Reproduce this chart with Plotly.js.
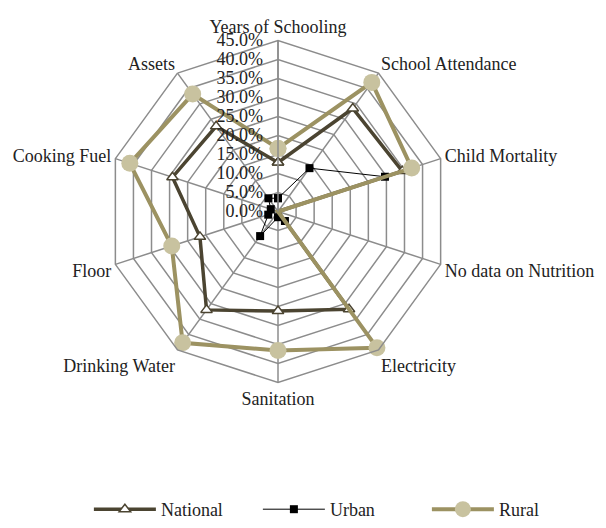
<!DOCTYPE html>
<html><head><meta charset="utf-8">
<script src="https://cdn.plot.ly/plotly-3.0.1.min.js"></script>
<style>html,body{margin:0;padding:0;background:#fff}</style>
</head><body>
<div id="chart" style="width:606px;height:528px"></div>
<script>
const categories = ["Years of Schooling","School Attendance","Child Mortality","No data on Nutrition","Electricity","Sanitation","Drinking Water","Floor","Cooking Fuel","Assets"];
const national = [0.129, 0.335, 0.344, 0.0, 0.318, 0.262, 0.320, 0.216, 0.292, 0.277];
const urban    = [0.035, 0.141, 0.296, 0.0, 0.031, 0.015, 0.080, 0.027, 0.020, 0.043];
const rural    = [0.166, 0.420, 0.370, 0.0, 0.443, 0.366, 0.427, 0.294, 0.410, 0.382];

const close = a => a.concat([a[0]]);
const cats = close(categories);
const FONT = "Liberation Serif, Times New Roman, serif";

const traces = [
  {type:'scatterpolar', name:'National', r: close(national), theta: cats, mode:'lines+markers',
   line:{color:'#4b4431', width:3.5},
   marker:{symbol:'triangle-up', size:10, color:'#ffffff', line:{color:'#4b4431', width:1.5}}},
  {type:'scatterpolar', name:'Urban', r: close(urban), theta: cats, mode:'lines+markers',
   line:{color:'#000000', width:1},
   marker:{symbol:'square', size:8, color:'#000000'}},
  {type:'scatterpolar', name:'Rural', r: close(rural), theta: cats, mode:'lines+markers',
   line:{color:'#9c9262', width:4},
   marker:{symbol:'circle', size:17, color:'#c8c29f'}}
];

const layout = {
  width:606, height:528,
  margin:{l:0,r:0,t:0,b:0},
  paper_bgcolor:'#ffffff',
  font:{family:FONT, size:18, color:'#222222'},
  showlegend:true,
  legend:{orientation:'h', x:0.565, xanchor:'center', y:0, yanchor:'bottom', entrywidth:92, itemwidth:62,
    font:{family:FONT, size:18, color:'#222'}},
  polar:{
    domain:{x:[107/606, 449/606], y:[1-382.5/528, 1-40.5/528]},
    gridshape:'linear',
    bgcolor:'#ffffff',
    angularaxis:{rotation:90, direction:'clockwise', type:'category',
      linecolor:'#8c8c8c', linewidth:1.5, gridcolor:'#8c8c8c', gridwidth:1.5,
      ticks:'', tickfont:{family:FONT, size:18, color:'#222'}},
    radialaxis:{range:[0,0.45], dtick:0.05, tick0:0, tickformat:'.1%', angle:90, side:'counterclockwise',
      showline:true, linecolor:'#8c8c8c', linewidth:1.5,
      gridcolor:'#8c8c8c', gridwidth:1.5, ticks:'outside', ticklen:8, tickcolor:'rgba(0,0,0,0)', tickangle:90,
      tickfont:{family:FONT, size:18, color:'#222'}}
  }
};
Plotly.newPlot('chart', traces, layout, {displayModeBar:false, staticPlot:true});
</script>
</body></html>
